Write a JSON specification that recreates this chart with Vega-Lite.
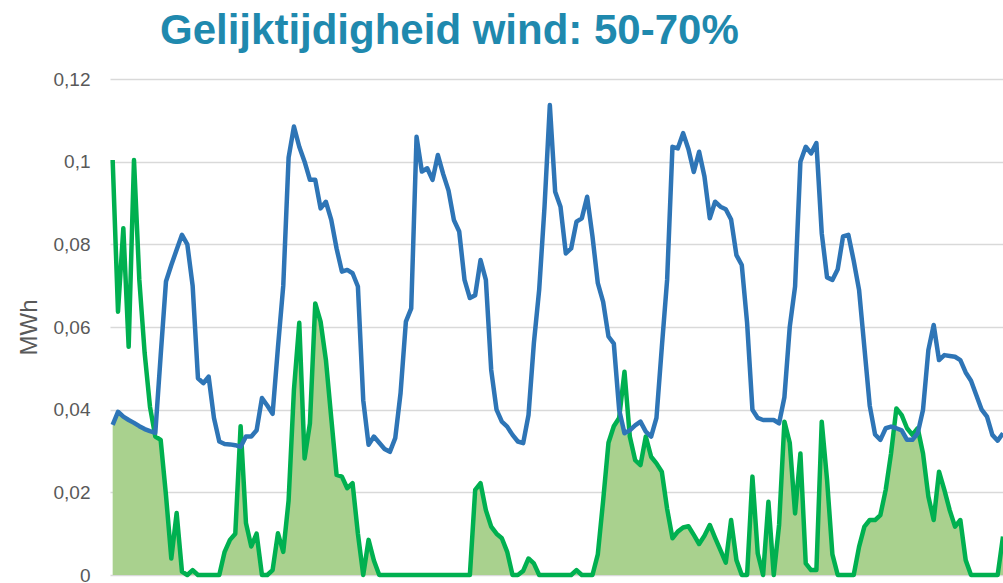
{
  "$schema": "https://vega.github.io/schema/vega-lite/v6.json",
  "width": 893,
  "height": 496,
  "autosize": {"type": "none"},
  "padding": {"left": 110, "top": 79, "right": 0, "bottom": 8},
  "background": "white",
  "title": {"text": "Gelijktijdigheid wind: 50-70%", "anchor": "start", "frame": "group", "dx": 50, "offset": 17, "font": "Liberation Sans", "fontSize": 42, "fontWeight": "bold", "color": "#1F89AE"},
  "config": {
    "locale": {"number": {"decimal": ",", "thousands": ".", "grouping": [3], "currency": ["€", ""]}},
    "view": {"stroke": null}
  },
  "data": {"values": [
    {"h":0,"demand":0.0363,"wind":0.1004,"overlap":0.0363},
    {"h":1,"demand":0.0395,"wind":0.0637,"overlap":0.0395},
    {"h":2,"demand":0.0383,"wind":0.0839,"overlap":0.0383},
    {"h":3,"demand":0.0375,"wind":0.0552,"overlap":0.0375},
    {"h":4,"demand":0.0368,"wind":0.1004,"overlap":0.0368},
    {"h":5,"demand":0.036,"wind":0.0714,"overlap":0.036},
    {"h":6,"demand":0.0353,"wind":0.0537,"overlap":0.0353},
    {"h":7,"demand":0.0348,"wind":0.0407,"overlap":0.0348},
    {"h":8,"demand":0.0344,"wind":0.0335,"overlap":0.0335},
    {"h":9,"demand":0.053,"wind":0.0327,"overlap":0.0327},
    {"h":10,"demand":0.071,"wind":0.0193,"overlap":0.0193},
    {"h":11,"demand":0.075,"wind":0.004,"overlap":0.004},
    {"h":12,"demand":0.0787,"wind":0.015,"overlap":0.015},
    {"h":13,"demand":0.0823,"wind":0.0008,"overlap":0.0008},
    {"h":14,"demand":0.08,"wind":0,"overlap":0},
    {"h":15,"demand":0.07,"wind":0.0012,"overlap":0.0012},
    {"h":16,"demand":0.0476,"wind":0,"overlap":0},
    {"h":17,"demand":0.0464,"wind":0,"overlap":0},
    {"h":18,"demand":0.048,"wind":0,"overlap":0},
    {"h":19,"demand":0.038,"wind":0,"overlap":0},
    {"h":20,"demand":0.0323,"wind":0,"overlap":0},
    {"h":21,"demand":0.0317,"wind":0.0056,"overlap":0.0056},
    {"h":22,"demand":0.0316,"wind":0.0085,"overlap":0.0085},
    {"h":23,"demand":0.0314,"wind":0.01,"overlap":0.01},
    {"h":24,"demand":0.031,"wind":0.036,"overlap":0.031},
    {"h":25,"demand":0.0335,"wind":0.0126,"overlap":0.0126},
    {"h":26,"demand":0.0335,"wind":0.0069,"overlap":0.0069},
    {"h":27,"demand":0.035,"wind":0.01,"overlap":0.01},
    {"h":28,"demand":0.0428,"wind":0,"overlap":0},
    {"h":29,"demand":0.041,"wind":0,"overlap":0},
    {"h":30,"demand":0.039,"wind":0.0012,"overlap":0.0012},
    {"h":31,"demand":0.055,"wind":0.0101,"overlap":0.0101},
    {"h":32,"demand":0.07,"wind":0.0056,"overlap":0.0056},
    {"h":33,"demand":0.101,"wind":0.018,"overlap":0.018},
    {"h":34,"demand":0.1085,"wind":0.0448,"overlap":0.0448},
    {"h":35,"demand":0.1036,"wind":0.061,"overlap":0.061},
    {"h":36,"demand":0.1,"wind":0.0282,"overlap":0.0282},
    {"h":37,"demand":0.0956,"wind":0.0367,"overlap":0.0367},
    {"h":38,"demand":0.0956,"wind":0.0657,"overlap":0.0657},
    {"h":39,"demand":0.0887,"wind":0.0613,"overlap":0.0613},
    {"h":40,"demand":0.0903,"wind":0.052,"overlap":0.052},
    {"h":41,"demand":0.0859,"wind":0.038,"overlap":0.038},
    {"h":42,"demand":0.079,"wind":0.0242,"overlap":0.0242},
    {"h":43,"demand":0.0734,"wind":0.0238,"overlap":0.0238},
    {"h":44,"demand":0.0738,"wind":0.021,"overlap":0.021},
    {"h":45,"demand":0.073,"wind":0.0222,"overlap":0.0222},
    {"h":46,"demand":0.0698,"wind":0.01,"overlap":0.01},
    {"h":47,"demand":0.0423,"wind":0,"overlap":0},
    {"h":48,"demand":0.0315,"wind":0.0085,"overlap":0.0085},
    {"h":49,"demand":0.0335,"wind":0.0035,"overlap":0.0035},
    {"h":50,"demand":0.032,"wind":0,"overlap":0},
    {"h":51,"demand":0.0305,"wind":0,"overlap":0},
    {"h":52,"demand":0.0298,"wind":0,"overlap":0},
    {"h":53,"demand":0.0331,"wind":0,"overlap":0},
    {"h":54,"demand":0.044,"wind":0,"overlap":0},
    {"h":55,"demand":0.0613,"wind":0,"overlap":0},
    {"h":56,"demand":0.0645,"wind":0,"overlap":0},
    {"h":57,"demand":0.106,"wind":0,"overlap":0},
    {"h":58,"demand":0.0976,"wind":0,"overlap":0},
    {"h":59,"demand":0.0984,"wind":0,"overlap":0},
    {"h":60,"demand":0.0956,"wind":0,"overlap":0},
    {"h":61,"demand":0.1016,"wind":0,"overlap":0},
    {"h":62,"demand":0.097,"wind":0,"overlap":0},
    {"h":63,"demand":0.093,"wind":0,"overlap":0},
    {"h":64,"demand":0.0859,"wind":0,"overlap":0},
    {"h":65,"demand":0.0831,"wind":0,"overlap":0},
    {"h":66,"demand":0.0714,"wind":0,"overlap":0},
    {"h":67,"demand":0.067,"wind":0,"overlap":0},
    {"h":68,"demand":0.0677,"wind":0.0206,"overlap":0.0206},
    {"h":69,"demand":0.0762,"wind":0.0222,"overlap":0.0222},
    {"h":70,"demand":0.0714,"wind":0.0157,"overlap":0.0157},
    {"h":71,"demand":0.0496,"wind":0.0117,"overlap":0.0117},
    {"h":72,"demand":0.04,"wind":0.01,"overlap":0.01},
    {"h":73,"demand":0.0371,"wind":0.0089,"overlap":0.0089},
    {"h":74,"demand":0.0359,"wind":0.0056,"overlap":0.0056},
    {"h":75,"demand":0.0339,"wind":0,"overlap":0},
    {"h":76,"demand":0.0323,"wind":0,"overlap":0},
    {"h":77,"demand":0.0319,"wind":0.001,"overlap":0.001},
    {"h":78,"demand":0.0387,"wind":0.004,"overlap":0.004},
    {"h":79,"demand":0.056,"wind":0.0028,"overlap":0.0028},
    {"h":80,"demand":0.069,"wind":0,"overlap":0},
    {"h":81,"demand":0.089,"wind":0,"overlap":0},
    {"h":82,"demand":0.1137,"wind":0,"overlap":0},
    {"h":83,"demand":0.0927,"wind":0,"overlap":0},
    {"h":84,"demand":0.0891,"wind":0,"overlap":0},
    {"h":85,"demand":0.0778,"wind":0,"overlap":0},
    {"h":86,"demand":0.079,"wind":0,"overlap":0},
    {"h":87,"demand":0.0855,"wind":0.0012,"overlap":0.0012},
    {"h":88,"demand":0.0863,"wind":0,"overlap":0},
    {"h":89,"demand":0.0915,"wind":0,"overlap":0},
    {"h":90,"demand":0.0819,"wind":0,"overlap":0},
    {"h":91,"demand":0.0706,"wind":0.005,"overlap":0.005},
    {"h":92,"demand":0.0661,"wind":0.018,"overlap":0.018},
    {"h":93,"demand":0.0577,"wind":0.032,"overlap":0.032},
    {"h":94,"demand":0.056,"wind":0.036,"overlap":0.036},
    {"h":95,"demand":0.04,"wind":0.038,"overlap":0.038},
    {"h":96,"demand":0.0343,"wind":0.0492,"overlap":0.0343},
    {"h":97,"demand":0.035,"wind":0.0335,"overlap":0.0335},
    {"h":98,"demand":0.0362,"wind":0.0278,"overlap":0.0278},
    {"h":99,"demand":0.0371,"wind":0.0266,"overlap":0.0266},
    {"h":100,"demand":0.0347,"wind":0.0335,"overlap":0.0335},
    {"h":101,"demand":0.0335,"wind":0.0286,"overlap":0.0286},
    {"h":102,"demand":0.038,"wind":0.027,"overlap":0.027},
    {"h":103,"demand":0.055,"wind":0.025,"overlap":0.025},
    {"h":104,"demand":0.0714,"wind":0.016,"overlap":0.016},
    {"h":105,"demand":0.1036,"wind":0.0089,"overlap":0.0089},
    {"h":106,"demand":0.1032,"wind":0.0105,"overlap":0.0105},
    {"h":107,"demand":0.1069,"wind":0.0115,"overlap":0.0115},
    {"h":108,"demand":0.103,"wind":0.0118,"overlap":0.0118},
    {"h":109,"demand":0.0975,"wind":0.0097,"overlap":0.0097},
    {"h":110,"demand":0.1024,"wind":0.0075,"overlap":0.0075},
    {"h":111,"demand":0.0964,"wind":0.0095,"overlap":0.0095},
    {"h":112,"demand":0.0863,"wind":0.0121,"overlap":0.0121},
    {"h":113,"demand":0.0903,"wind":0.009,"overlap":0.009},
    {"h":114,"demand":0.0891,"wind":0.006,"overlap":0.006},
    {"h":115,"demand":0.0885,"wind":0.003,"overlap":0.003},
    {"h":116,"demand":0.086,"wind":0.0133,"overlap":0.0133},
    {"h":117,"demand":0.0774,"wind":0.0036,"overlap":0.0036},
    {"h":118,"demand":0.075,"wind":0,"overlap":0},
    {"h":119,"demand":0.061,"wind":0,"overlap":0},
    {"h":120,"demand":0.04,"wind":0.0238,"overlap":0.0238},
    {"h":121,"demand":0.038,"wind":0.0052,"overlap":0.0052},
    {"h":122,"demand":0.0375,"wind":0,"overlap":0},
    {"h":123,"demand":0.0375,"wind":0.0177,"overlap":0.0177},
    {"h":124,"demand":0.0375,"wind":0,"overlap":0},
    {"h":125,"demand":0.0367,"wind":0.0121,"overlap":0.0121},
    {"h":126,"demand":0.043,"wind":0.0371,"overlap":0.0371},
    {"h":127,"demand":0.06,"wind":0.032,"overlap":0.032},
    {"h":128,"demand":0.0698,"wind":0.0149,"overlap":0.0149},
    {"h":129,"demand":0.1,"wind":0.0294,"overlap":0.0294},
    {"h":130,"demand":0.1036,"wind":0.0028,"overlap":0.0028},
    {"h":131,"demand":0.102,"wind":0.0012,"overlap":0.0012},
    {"h":132,"demand":0.1045,"wind":0.0012,"overlap":0.0012},
    {"h":133,"demand":0.0827,"wind":0.0371,"overlap":0.0371},
    {"h":134,"demand":0.072,"wind":0.023,"overlap":0.023},
    {"h":135,"demand":0.0714,"wind":0.005,"overlap":0.005},
    {"h":136,"demand":0.074,"wind":0,"overlap":0},
    {"h":137,"demand":0.0819,"wind":0,"overlap":0},
    {"h":138,"demand":0.0823,"wind":0,"overlap":0},
    {"h":139,"demand":0.076,"wind":0,"overlap":0},
    {"h":140,"demand":0.069,"wind":0.0068,"overlap":0.0068},
    {"h":141,"demand":0.055,"wind":0.0117,"overlap":0.0117},
    {"h":142,"demand":0.041,"wind":0.0133,"overlap":0.0133},
    {"h":143,"demand":0.034,"wind":0.0133,"overlap":0.0133},
    {"h":144,"demand":0.0327,"wind":0.0145,"overlap":0.0145},
    {"h":145,"demand":0.0355,"wind":0.0206,"overlap":0.0206},
    {"h":146,"demand":0.0359,"wind":0.0294,"overlap":0.0294},
    {"h":147,"demand":0.0355,"wind":0.0403,"overlap":0.0355},
    {"h":148,"demand":0.035,"wind":0.0387,"overlap":0.035},
    {"h":149,"demand":0.0327,"wind":0.0355,"overlap":0.0327},
    {"h":150,"demand":0.0327,"wind":0.0339,"overlap":0.0327},
    {"h":151,"demand":0.0343,"wind":0.0355,"overlap":0.0343},
    {"h":152,"demand":0.04,"wind":0.0294,"overlap":0.0294},
    {"h":153,"demand":0.0544,"wind":0.019,"overlap":0.019},
    {"h":154,"demand":0.0605,"wind":0.0133,"overlap":0.0133},
    {"h":155,"demand":0.052,"wind":0.025,"overlap":0.025},
    {"h":156,"demand":0.0532,"wind":0.0206,"overlap":0.0206},
    {"h":157,"demand":0.053,"wind":0.0157,"overlap":0.0157},
    {"h":158,"demand":0.0528,"wind":0.0117,"overlap":0.0117},
    {"h":159,"demand":0.052,"wind":0.0133,"overlap":0.0133},
    {"h":160,"demand":0.049,"wind":0.0036,"overlap":0.0036},
    {"h":161,"demand":0.047,"wind":0,"overlap":0},
    {"h":162,"demand":0.0435,"wind":0,"overlap":0},
    {"h":163,"demand":0.04,"wind":0,"overlap":0},
    {"h":164,"demand":0.0383,"wind":0,"overlap":0},
    {"h":165,"demand":0.0339,"wind":0,"overlap":0},
    {"h":166,"demand":0.0325,"wind":0,"overlap":0},
    {"h":167,"demand":0.0343,"wind":0.0093,"overlap":0.0093}
  ]},
  "encoding": {
    "x": {"field": "h", "type": "quantitative", "scale": {"domain": [-0.5, 167], "nice": false, "zero": false}, "axis": null}
  },
  "layer": [
    {
      "mark": {"type": "area", "color": "#A9D18E", "opacity": 1},
      "encoding": {
        "y": {"field": "overlap", "type": "quantitative", "scale": {"domain": [0, 0.12], "nice": false},
          "axis": {"title": "MWh", "values": [0, 0.02, 0.04, 0.06, 0.08, 0.1, 0.12], "format": ".2~f", "domain": false, "ticks": false,
            "labelFont": "Liberation Sans", "labelFontSize": 19, "labelColor": "#595959", "labelPadding": 20,
            "grid": true, "gridColor": "#D9D9D9", "gridWidth": 1.5,
            "titleFont": "Liberation Sans", "titleFontSize": 24, "titleFontWeight": "normal", "titleColor": "#595959", "titlePadding": 12}}
      }
    },
    {
      "mark": {"type": "line", "color": "#00B050", "strokeWidth": 4.5, "strokeJoin": "round"},
      "encoding": {"y": {"field": "wind", "type": "quantitative"}}
    },
    {
      "mark": {"type": "line", "color": "#2E75B6", "strokeWidth": 4.5, "strokeJoin": "round"},
      "encoding": {"y": {"field": "demand", "type": "quantitative"}}
    }
  ]
}
